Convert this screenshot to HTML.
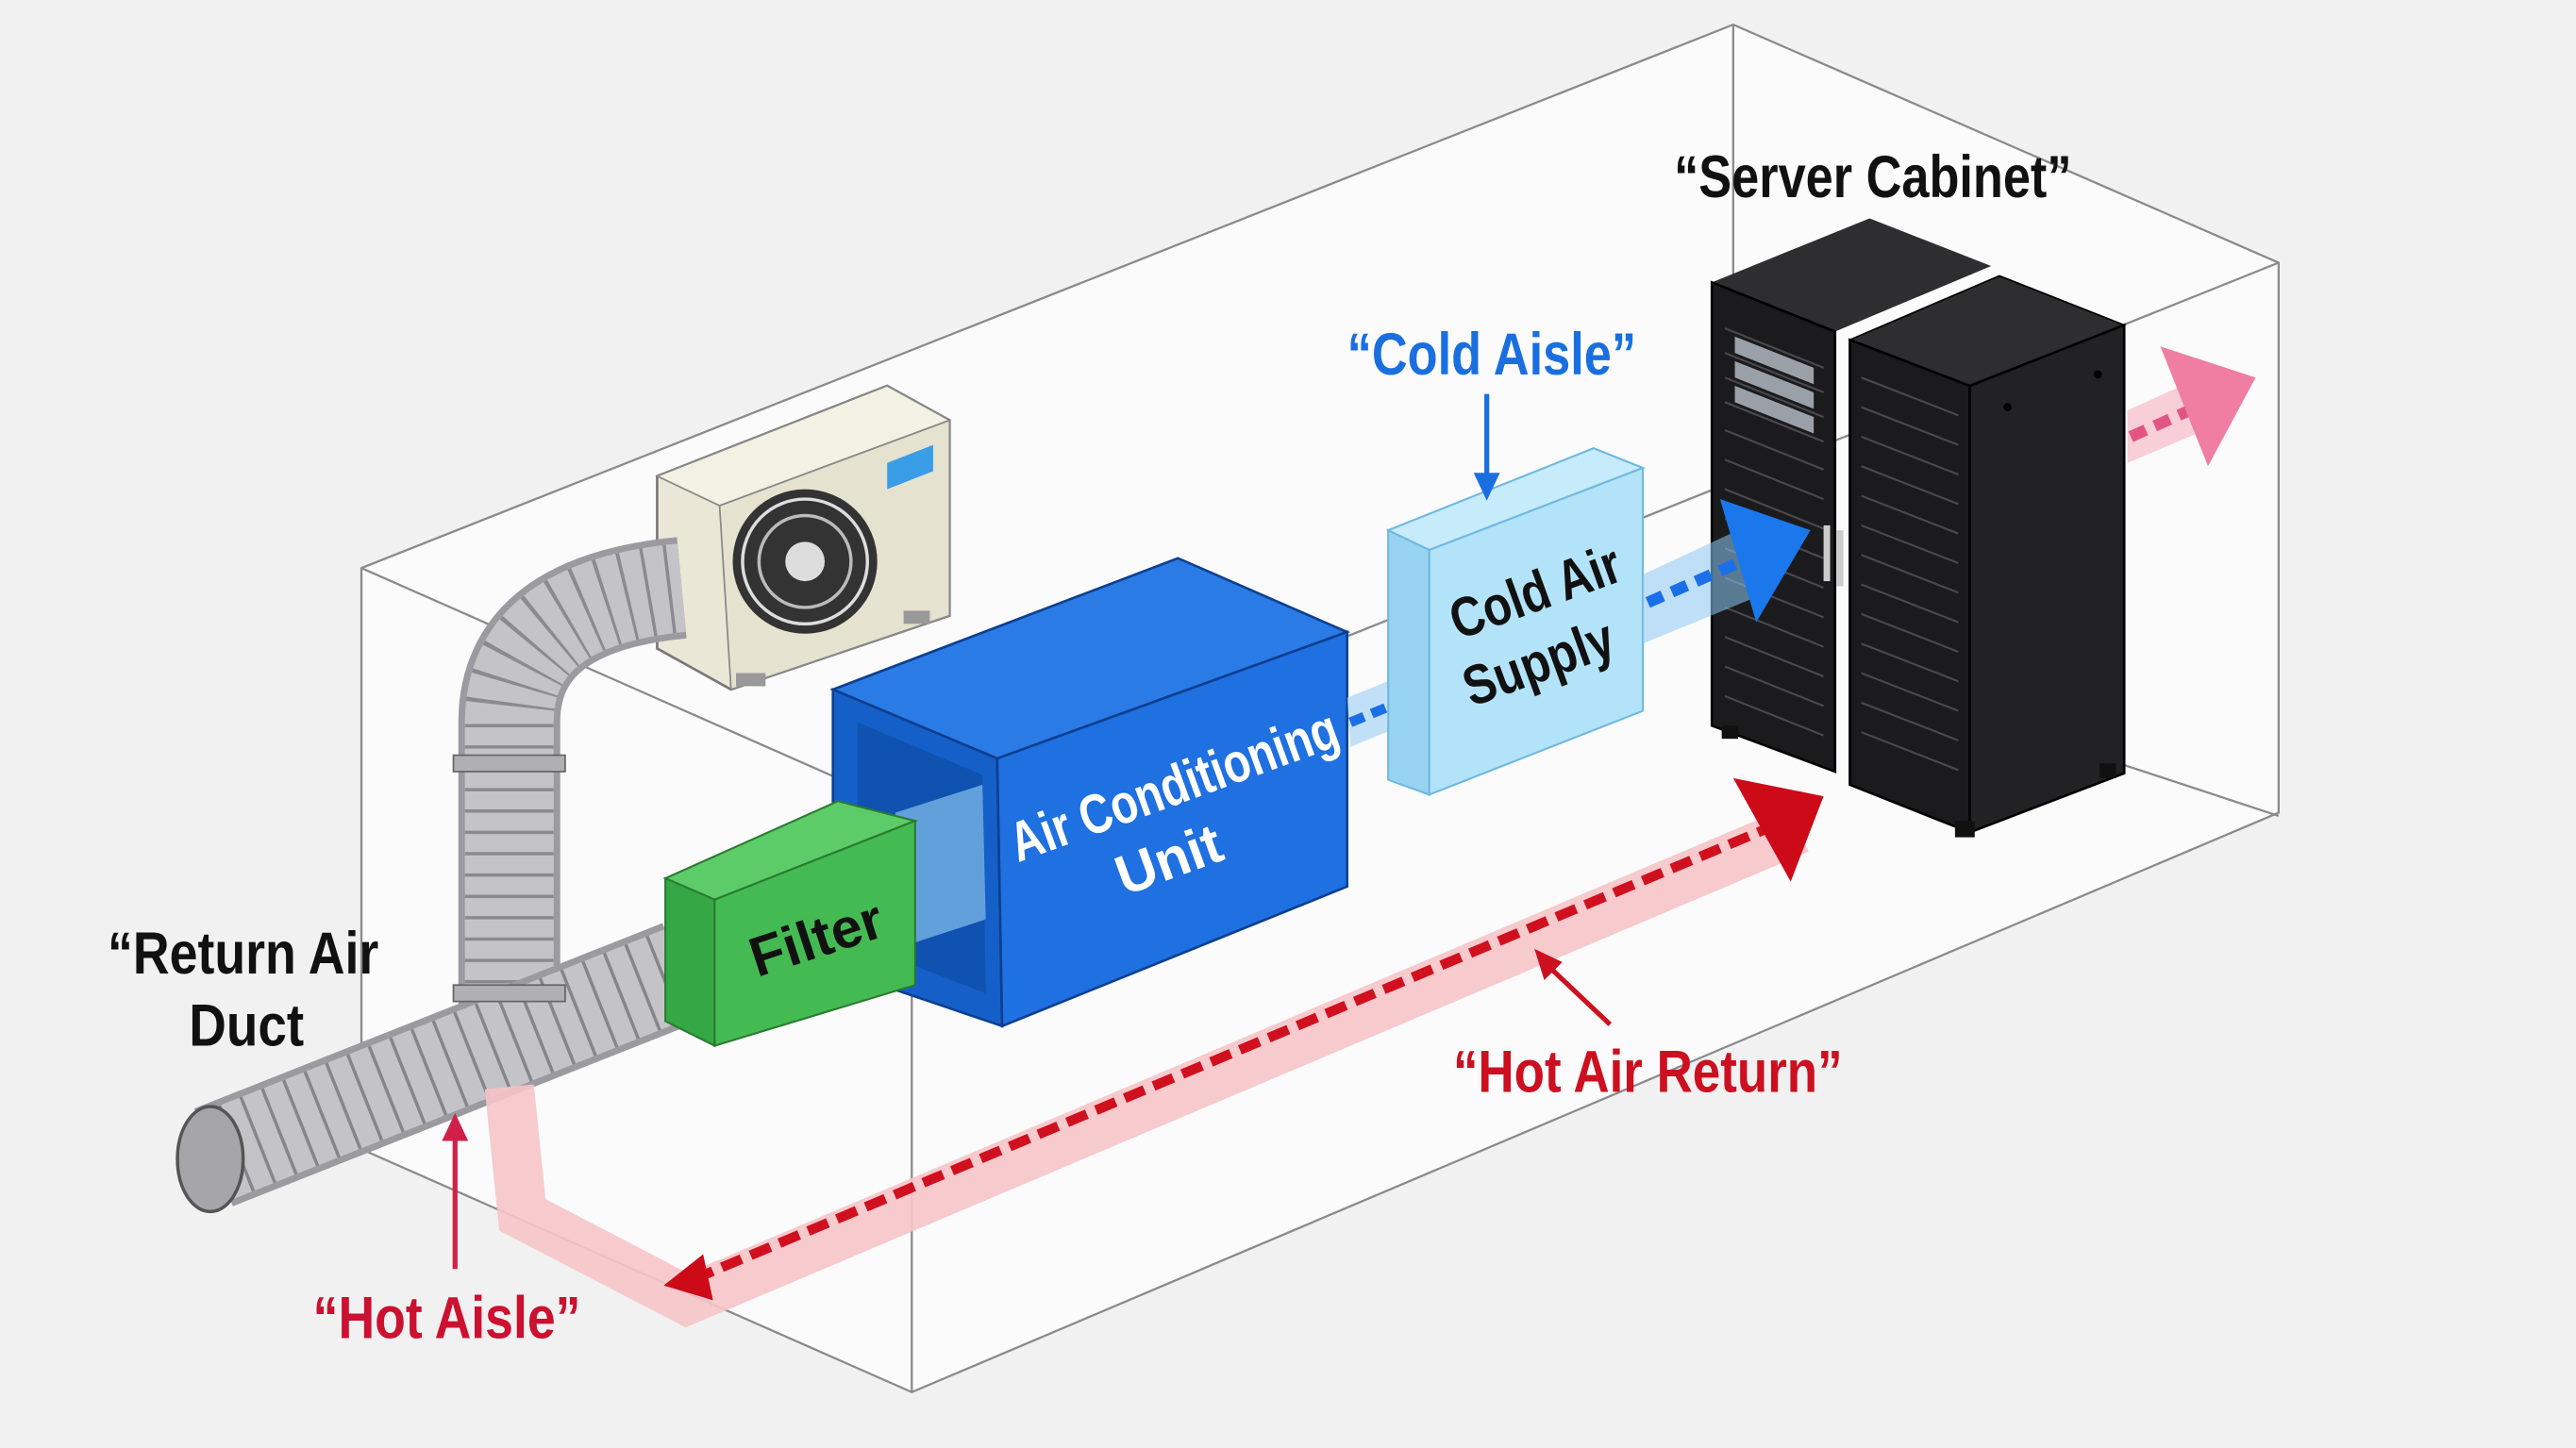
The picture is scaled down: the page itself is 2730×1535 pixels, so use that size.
<!DOCTYPE html>
<html><head><meta charset="utf-8"><style>
html,body{margin:0;padding:0;background:#f2f2f2;}
svg{display:block;}
text{font-family:"Liberation Sans Narrow","Liberation Sans",sans-serif;font-weight:bold;}
</style></head><body>
<svg width="2730" height="1535" viewBox="0 0 1568 882" preserveAspectRatio="none" xmlns="http://www.w3.org/2000/svg">
<rect width="1568" height="882" fill="#f1f1f1"/>
<!-- room -->
<polygon points="220,346 1055,15 1387,160 1387,495 555,848 220,700" fill="#fbfbfb"/>
<g stroke="#8a8a8a" stroke-width="1.3" fill="none">
<polyline points="220,700 220,346 1055,15 1387,160 1387,495 555,848 220,700"/>
<line x1="555" y1="494" x2="555" y2="848"/>
<line x1="220" y1="346" x2="555" y2="494"/>
<line x1="555" y1="494" x2="1387" y2="160"/>
<line x1="1055" y1="15" x2="1055" y2="300"/>
<line x1="1290" y1="465" x2="1387" y2="497"/>
</g>

<!-- outdoor unit -->
<polygon points="400,290 540,235 578,256 578,375 445,420 400,395" fill="#ebe7d6" stroke="#777" stroke-width="1.5"/>
<polygon points="400,290 540,235 578,256 438,308" fill="#f3f0e4" stroke="#888" stroke-width="1"/>
<polygon points="438,308 578,256 578,375 445,420" fill="#e6e2d0" stroke="#888" stroke-width="1"/>
<polygon points="540,282 568,271 568,287 540,298" fill="#3a9de8"/>
<circle cx="490" cy="342" r="44" fill="#333"/>
<circle cx="490" cy="342" r="38" fill="none" stroke="#ddd" stroke-width="2"/>
<circle cx="490" cy="342" r="28" fill="none" stroke="#bbb" stroke-width="2"/>
<circle cx="490" cy="342" r="12" fill="#ddd"/>
<rect x="448" y="410" width="18" height="8" fill="#999"/>
<rect x="550" y="372" width="16" height="8" fill="#999"/>

<!-- ducts -->
<g fill="none" stroke-linecap="butt">
<path d="M310,625 L310,440 Q310,368 415,358" stroke="#9a9aa0" stroke-width="62"/>
<path d="M310,625 L310,440 Q310,368 415,358" stroke="#c4c4c8" stroke-width="54"/>
<path d="M310,625 L310,440 Q310,368 415,358" stroke="#8a8a90" stroke-width="54" stroke-dasharray="2 11"/>
<line x1="130" y1="705" x2="415" y2="592" stroke="#9a9aa0" stroke-width="64"/>
<line x1="130" y1="705" x2="415" y2="592" stroke="#c4c4c8" stroke-width="56"/>
<line x1="130" y1="705" x2="415" y2="592" stroke="#85858b" stroke-width="56" stroke-dasharray="2 12"/>
</g>
<ellipse cx="128" cy="706" rx="20" ry="32" fill="#a5a5aa" stroke="#555" stroke-width="2"/>
<rect x="276" y="460" width="68" height="10" fill="#b0b0b4" stroke="#666"/>
<rect x="276" y="600" width="68" height="10" fill="#b0b0b4" stroke="#666"/>

<!-- AC unit -->
<polygon points="507,420 717,340 820,385 607,462" fill="#2b7be6" stroke="#0d3f90" stroke-width="1.5"/>
<polygon points="507,420 607,462 610,625 507,590" fill="#1560c8" stroke="#0d3f90" stroke-width="1.5"/>
<polygon points="522,440 598,472 600,605 522,575" fill="#0f52b0"/>
<polygon points="545,495 598,478 600,560 545,578" fill="#6aa8e0" opacity="0.9"/>
<polygon points="607,462 820,385 820,540 610,625" fill="#1f70e0" stroke="#0d3f90" stroke-width="1.5"/>
<text x="715" y="490" fill="#fff" font-size="34" text-anchor="middle" transform="rotate(-20 715 480)" textLength="210" lengthAdjust="spacingAndGlyphs">Air Conditioning</text>
<text x="712" y="535" fill="#fff" font-size="34" text-anchor="middle" transform="rotate(-20 712 525)">Unit</text>

<!-- filter -->
<polygon points="405,535 510,488 557,500 435,548" fill="#5ccc68" stroke="#2a7a30" stroke-width="1.2"/>
<polygon points="405,535 435,548 435,637 405,622" fill="#34a844" stroke="#2a7a30" stroke-width="1.2"/>
<polygon points="435,548 557,500 557,600 435,637" fill="#44bb52" stroke="#2a7a30" stroke-width="1.2"/>
<text x="497" y="583" fill="#111" font-size="34" text-anchor="middle" transform="rotate(-18 497 572)">Filter</text>

<!-- cold air band -->
<polygon points="820,425 852,412 858,440 822,455" fill="#a8d4f6" opacity="0.7"/>
<line x1="822" y1="440" x2="856" y2="426" stroke="#1a6fe8" stroke-width="6" stroke-dasharray="9 5"/>
<polygon points="852,414 870,420 858,436" fill="#1a6fe8"/>

<!-- cold air supply -->
<polygon points="845,323 970,273 1000,285 870,335" fill="#c6ecfb" stroke="#6fb8e0" stroke-width="1.2"/>
<polygon points="845,323 870,335 870,484 845,475" fill="#98d4f2" stroke="#6fb8e0" stroke-width="1.2"/>
<polygon points="870,335 1000,285 1000,433 870,484" fill="#b3e3f9" stroke="#6fb8e0" stroke-width="1.2"/>
<text x="935" y="372" fill="#111" font-size="34" text-anchor="middle" transform="rotate(-20 935 362)" textLength="108" lengthAdjust="spacingAndGlyphs">Cold Air</text>
<text x="937" y="415" fill="#111" font-size="34" text-anchor="middle" transform="rotate(-20 937 405)" textLength="95" lengthAdjust="spacingAndGlyphs">Supply</text>

<!-- cabinets -->
<polygon points="1042,172 1138,133 1212,162 1117,202" fill="#2e2e31"/>
<polygon points="1042,172 1117,202 1117,470 1042,442" fill="#1b1b1d" stroke="#000" stroke-width="1.5"/>
<polygon points="1126,207 1217,168 1293,198 1199,235" fill="#2e2e31" stroke="#000"/>
<polygon points="1126,207 1199,235 1199,507 1126,478" fill="#1b1b1d" stroke="#000" stroke-width="1.5"/>
<polygon points="1199,235 1293,198 1293,471 1199,507" fill="#222225" stroke="#000" stroke-width="1.5"/>
<g stroke="#4a4a4e" stroke-width="1.2">
<line x1="1050" y1="200" x2="1110" y2="224"/><line x1="1050" y1="215" x2="1110" y2="239"/>
<line x1="1050" y1="230" x2="1110" y2="254"/><line x1="1050" y1="245" x2="1110" y2="269"/>
<line x1="1050" y1="262" x2="1110" y2="286"/><line x1="1050" y1="280" x2="1110" y2="304"/>
<line x1="1050" y1="298" x2="1110" y2="322"/><line x1="1050" y1="316" x2="1110" y2="340"/>
<line x1="1050" y1="334" x2="1110" y2="358"/><line x1="1050" y1="352" x2="1110" y2="376"/>
<line x1="1050" y1="370" x2="1110" y2="394"/><line x1="1050" y1="388" x2="1110" y2="412"/>
<line x1="1050" y1="406" x2="1110" y2="430"/><line x1="1050" y1="424" x2="1110" y2="448"/>
<line x1="1133" y1="230" x2="1192" y2="253"/><line x1="1133" y1="248" x2="1192" y2="271"/>
<line x1="1133" y1="266" x2="1192" y2="289"/><line x1="1133" y1="284" x2="1192" y2="307"/>
<line x1="1133" y1="302" x2="1192" y2="325"/><line x1="1133" y1="320" x2="1192" y2="343"/>
<line x1="1133" y1="338" x2="1192" y2="361"/><line x1="1133" y1="356" x2="1192" y2="379"/>
<line x1="1133" y1="374" x2="1192" y2="397"/><line x1="1133" y1="392" x2="1192" y2="415"/>
<line x1="1133" y1="410" x2="1192" y2="433"/><line x1="1133" y1="428" x2="1192" y2="451"/>
<line x1="1133" y1="446" x2="1192" y2="469"/>
</g>
<polygon points="1056,205 1104,224 1104,234 1056,215" fill="#9aa0a8"/>
<polygon points="1056,220 1104,239 1104,249 1056,230" fill="#9aa0a8"/>
<polygon points="1056,235 1104,254 1104,264 1056,245" fill="#9aa0a8"/>
<rect x="1110" y="320" width="4" height="34" fill="#ccc"/>
<rect x="1118" y="323" width="4" height="34" fill="#ccc"/>
<circle cx="1222" cy="248" r="2.5" fill="#000"/><circle cx="1277" cy="228" r="2.5" fill="#000"/>
<rect x="1048" y="442" width="10" height="8" fill="#111"/><rect x="1190" y="500" width="12" height="10" fill="#111"/>
<rect x="1278" y="465" width="10" height="9" fill="#111"/>

<!-- cold arrow into cabinet -->
<polygon points="1000,350 1060,322 1078,360 1000,392" fill="#8cc8f4" opacity="0.55"/>
<line x1="1003" y1="367" x2="1060" y2="342" stroke="#1a6fe8" stroke-width="7" stroke-dasharray="10 6"/>
<polygon points="1047,304 1102,323 1069,379" fill="#1a78ec"/>

<!-- hot out arrow -->
<polygon points="1295,250 1330,234 1342,262 1295,282" fill="#f7c6d0" opacity="0.85"/>
<line x1="1297" y1="266" x2="1335" y2="249" stroke="#e25582" stroke-width="7" stroke-dasharray="10 6"/>
<polygon points="1315,211 1373,230 1344,284" fill="#ef7ea2"/>

<!-- hot air return -->
<path d="M310,662 L318,740 L418,792 L1095,505" fill="none" stroke="#f6c4c8" stroke-width="30" stroke-linejoin="miter" opacity="0.9"/>
<line x1="1082" y1="502" x2="425" y2="778" stroke="#d0101e" stroke-width="6" stroke-dasharray="13 6"/>
<polygon points="1055,474 1110,485 1090,537" fill="#cc0a18"/>
<polygon points="404,783 428,764 434,792" fill="#cc0a18"/>

<!-- labels -->
<text x="1140" y="120" fill="#111" font-size="36" text-anchor="middle" textLength="242" lengthAdjust="spacingAndGlyphs">“Server Cabinet”</text>
<text x="908" y="228" fill="#1a6fe0" font-size="36" text-anchor="middle" textLength="176" lengthAdjust="spacingAndGlyphs">“Cold Aisle”</text>
<line x1="905" y1="240" x2="905" y2="292" stroke="#1a6fe0" stroke-width="3"/>
<polygon points="897,288 913,288 905,305" fill="#1a6fe0"/>
<text x="148" y="593" fill="#111" font-size="36" text-anchor="middle" textLength="165" lengthAdjust="spacingAndGlyphs">“Return Air</text>
<text x="150" y="637" fill="#111" font-size="36" text-anchor="middle" textLength="70" lengthAdjust="spacingAndGlyphs">Duct</text>
<text x="1003" y="665" fill="#cc1020" font-size="36" text-anchor="middle" textLength="237" lengthAdjust="spacingAndGlyphs">“Hot Air Return”</text>
<line x1="980" y1="624" x2="942" y2="588" stroke="#cc1020" stroke-width="3"/>
<polygon points="934,578 951,586 940,597" fill="#cc1020"/>
<text x="272" y="815" fill="#cc1030" font-size="36" text-anchor="middle" textLength="163" lengthAdjust="spacingAndGlyphs">“Hot Aisle”</text>
<line x1="277" y1="773" x2="277" y2="692" stroke="#d0204a" stroke-width="3"/>
<polygon points="269,695 285,695 277,678" fill="#d0204a"/>
</svg>
</body></html>
